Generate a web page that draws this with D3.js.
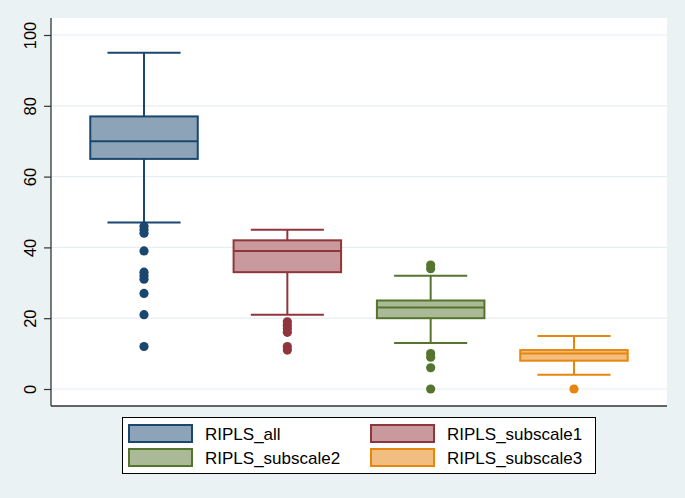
<!DOCTYPE html>
<html><head><meta charset="utf-8">
<script src="https://cdn.jsdelivr.net/npm/d3@7"></script>
<style>body{margin:0;background:#EAF2F3;}svg{display:block;}</style>
</head><body>
<script>
const series = ["RIPLS_all","RIPLS_subscale1","RIPLS_subscale2","RIPLS_subscale3"];
const lowerWhisker = [47, 21, 13, 4];
const q1 = [65, 33, 20, 8];
const median = [70, 39, 23, 10];
const q3 = [77, 42, 25, 11];
const upperWhisker = [95, 45, 32, 15];
const outliers = [
  [46, 45, 44, 39, 33, 32, 31, 27, 21, 12],
  [19, 18, 17, 16, 12, 11],
  [35, 34, 10, 9, 6, 0],
  [0]
];
const yTicks = [0, 20, 40, 60, 80, 100];
const strokeColors = ["#1A476F", "#90353B", "#55752F", "#E8850C"];
const fillColors = ["#8CA3B8", "#C8999D", "#AABA97", "#F2BE80"];

const W = 685, H = 498;
const plot = {left: 51, right: 667, top: 18, bottom: 406};

const svg = d3.select("body").append("svg").attr("width", W).attr("height", H);
svg.append("rect").attr("width", W).attr("height", H).attr("fill", "#EAF2F3");
svg.append("rect").attr("x", plot.left).attr("y", plot.top)
  .attr("width", plot.right - plot.left).attr("height", plot.bottom - plot.top).attr("fill", "#fff");

const y = d3.scaleLinear().domain([0, 100]).range([389, 35]);
const x = d3.scalePoint().domain(series).range([plot.left, plot.right]).padding(0.649);
const step = x.step();
const boxW = step * 0.75, capW = step * 0.51;

// gridlines
svg.append("g").selectAll("line").data(yTicks).join("line")
  .attr("x1", plot.left).attr("x2", plot.right)
  .attr("y1", d => y(d)).attr("y2", d => y(d))
  .attr("stroke", "#E6EEF1").attr("stroke-width", 1.2);

// y axis
const yAxis = d3.axisLeft(y).tickValues(yTicks).tickSize(7).tickSizeOuter(0).tickFormat(d3.format("d"));
const ya = svg.append("g").attr("transform", `translate(${plot.left},0)`).call(yAxis);
ya.select(".domain").remove();
ya.selectAll(".tick line").attr("stroke", "#333").attr("stroke-width", 1.2);
ya.selectAll(".tick text").attr("transform", "rotate(-90)").attr("x", 0).attr("y", -15)
  .attr("dy", 0).attr("text-anchor", "middle")
  .attr("font-family", "Liberation Sans, Arial, sans-serif").attr("font-size", 16.5).attr("fill", "#000");
svg.append("line").attr("x1", plot.left).attr("x2", plot.left).attr("y1", plot.top).attr("y2", plot.bottom)
  .attr("stroke", "#333").attr("stroke-width", 1.3);
svg.append("line").attr("x1", plot.left).attr("x2", plot.right).attr("y1", plot.bottom).attr("y2", plot.bottom)
  .attr("stroke", "#333").attr("stroke-width", 1.3);

// boxes
series.forEach((s, i) => {
  const cx = x(s);
  const g = svg.append("g");
  const sc = strokeColors[i];
  g.append("line").attr("x1", cx).attr("x2", cx).attr("y1", y(q3[i])).attr("y2", y(upperWhisker[i])).attr("stroke", sc).attr("stroke-width", 2);
  g.append("line").attr("x1", cx).attr("x2", cx).attr("y1", y(q1[i])).attr("y2", y(lowerWhisker[i])).attr("stroke", sc).attr("stroke-width", 2);
  [upperWhisker[i], lowerWhisker[i]].forEach(v => {
    g.append("line").attr("x1", cx - capW/2).attr("x2", cx + capW/2).attr("y1", y(v)).attr("y2", y(v)).attr("stroke", sc).attr("stroke-width", 2);
  });
  g.append("rect").attr("x", cx - boxW/2).attr("width", boxW)
    .attr("y", y(q3[i])).attr("height", y(q1[i]) - y(q3[i]))
    .attr("fill", fillColors[i]).attr("stroke", sc).attr("stroke-width", 2);
  g.append("line").attr("x1", cx - boxW/2).attr("x2", cx + boxW/2).attr("y1", y(median[i])).attr("y2", y(median[i])).attr("stroke", sc).attr("stroke-width", 2);
  g.selectAll("circle").data(outliers[i]).join("circle")
    .attr("cx", cx).attr("cy", d => y(d)).attr("r", 4.6).attr("fill", sc);
});

// legend
const leg = svg.append("g");
leg.append("rect").attr("x", 122.5).attr("y", 417.5).attr("width", 473).attr("height", 56)
  .attr("fill", "#fff").attr("stroke", "#000").attr("stroke-width", 1);
const legPos = [[129, 425], [371, 425], [129, 449], [371, 449]];
series.forEach((s, i) => {
  const [lx, ly] = legPos[i];
  leg.append("rect").attr("x", lx).attr("y", ly).attr("width", 63).attr("height", 17)
    .attr("fill", fillColors[i]).attr("stroke", strokeColors[i]).attr("stroke-width", 2);
  leg.append("text").attr("x", lx + 76).attr("y", ly + 15).text(s)
    .attr("font-family", "Liberation Sans, Arial, sans-serif").attr("font-size", 17).attr("fill", "#000");
});
</script>
</body></html>
